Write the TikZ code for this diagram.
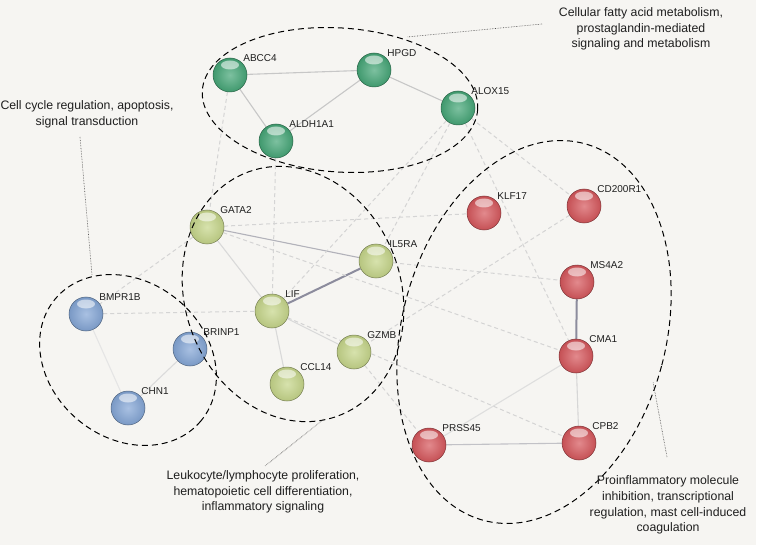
\documentclass[tikz,border=0pt]{standalone}
\usepackage{fontspec}
\setmainfont{Liberation Sans}
\usepackage{xcolor}
\definecolor{bgcol}{HTML}{F6F5F2}
\definecolor{grn}{HTML}{45A677}
\definecolor{ylw}{HTML}{C6D68A}
\definecolor{blu}{HTML}{84A6D6}
\definecolor{red}{HTML}{D6575C}
\pgfdeclarelayer{bg}
\pgfsetlayers{bg,main}

\begin{document}
\begin{tikzpicture}[x=1pt,y=-1pt,
  prot/.style={circle,minimum size=34pt,inner sep=0pt,draw=#1!60!black,line width=0.5pt,
    shading=radial,inner color=#1!70!white,outer color=#1!92!black,label distance=1.5pt,
    path picture={\fill[white,opacity=.55] ([yshift=-7pt]path picture bounding box.north) ellipse [x radius=9pt, y radius=4.5pt];}},
  lbl/.style={font=\fontsize{10}{12}\selectfont,text=black!88,inner sep=1pt},
  link/.style={draw=black!22,line width=1.1pt},
  strong/.style={draw=blue!15!black!45,line width=2pt},
  weak/.style={draw=black!17,line width=1pt,dash pattern=on 4pt off 3pt},
  hull/.style={draw=black,line width=1pt,dash pattern=on 6pt off 4pt},
  lead/.style={draw=black!70,line width=0.6pt,densely dotted},
  note/.style={font=\fontsize{12.3}{15.7}\selectfont,text=black!88,align=center,inner sep=0pt}]
\begin{pgfonlayer}{bg}
\fill[bgcol] (0,0) rectangle (756,545);
\end{pgfonlayer}
\useasboundingbox (0,0) rectangle (762,545);
% green group
\node[prot=grn,label={[lbl]45:ABCC4}] (abcc4) at (230,75) {};
\node[prot=grn,label={[lbl]45:HPGD}] (hpgd) at (374,70) {};
\node[prot=grn,label={[lbl]45:ALDH1A1}] (aldh1a1) at (276,141) {};
\node[prot=grn,label={[lbl]45:ALOX15}] (alox15) at (458,108) {};
% yellow group
\node[prot=ylw,label={[lbl]45:GATA2}] (gata2) at (207,227) {};
\node[prot=ylw,label={[lbl]45:IL5RA}] (il5ra) at (376,261) {};
\node[prot=ylw,label={[lbl]45:LIF}] (lif) at (272,311) {};
\node[prot=ylw,label={[lbl]45:GZMB}] (gzmb) at (354,352) {};
\node[prot=ylw,label={[lbl]45:CCL14}] (ccl14) at (287,384) {};
% blue group
\node[prot=blu,label={[lbl]45:BMPR1B}] (bmpr1b) at (86,314) {};
\node[prot=blu,label={[lbl]45:BRINP1}] (brinp1) at (190,349) {};
\node[prot=blu,label={[lbl]45:CHN1}] (chn1) at (128,408) {};
% red group
\node[prot=red,label={[lbl]45:KLF17}] (klf17) at (484,213) {};
\node[prot=red,label={[lbl]45:CD200R1}] (cd200r1) at (584,206) {};
\node[prot=red,label={[lbl]45:MS4A2}] (ms4a2) at (577,282) {};
\node[prot=red,label={[lbl]45:CMA1}] (cma1) at (576,356) {};
\node[prot=red,label={[lbl]45:CPB2}] (cpb2) at (579,443) {};
\node[prot=red,label={[lbl]45:PRSS45}] (prss45) at (429,445) {};
% edges
\begin{pgfonlayer}{bg}
\draw[link] (abcc4) -- (hpgd);
\draw[link] (abcc4) -- (aldh1a1);
\draw[link] (aldh1a1) -- (hpgd);
\draw[link] (hpgd) -- (alox15);
\draw[link,draw=blue!10!black!30] (gata2) -- (il5ra);
\draw[link,draw=black!15] (gata2) -- (lif);
\draw[link,draw=black!15] (lif) -- (gzmb);
\draw[link,draw=black!15] (lif) -- (ccl14);
\draw[strong] (lif) -- (il5ra);
\draw[link,draw=black!10] (bmpr1b) -- (chn1);
\draw[link,draw=black!14] (chn1) -- (brinp1);
\draw[strong] (ms4a2) -- (cma1);
\draw[link,draw=black!16] (cma1) -- (cpb2);
\draw[link,draw=black!13] (cma1) -- (prss45);
\draw[link,draw=blue!8!black!24] (prss45) -- (cpb2);
\draw[weak] (abcc4) -- (gata2);
\draw[weak] (aldh1a1) -- (lif);
\draw[weak] (alox15) -- (lif);
\draw[weak] (alox15) -- (il5ra);
\draw[weak] (alox15) -- (cma1);
\draw[weak] (alox15) -- (cd200r1);
\draw[weak] (gata2) -- (klf17);
\draw[weak] (gata2) -- (bmpr1b);
\draw[weak] (gata2) -- (cma1);
\draw[weak] (il5ra) -- (ms4a2);
\draw[weak] (bmpr1b) -- (lif);
\draw[weak] (cd200r1) -- (gzmb);
\draw[weak] (gzmb) -- (prss45);
\draw[weak] (lif) -- (cpb2);
\end{pgfonlayer}
% hulls
\draw[hull] (340,100) ellipse [x radius=138, y radius=72, rotate=-4];
\draw[hull] (293,294) ellipse [x radius=108, y radius=130, rotate=20];
\draw[hull] (128,360) ellipse [x radius=95, y radius=78, rotate=-40];
\draw[hull] (534,332) ellipse [x radius=132, y radius=195, rotate=-15];
% group notes
\node[note] (cellcyc) at (87,114) {Cell cycle regulation, apoptosis,\\signal transduction};
\node[note] (fatty) at (641,29) {Cellular fatty acid metabolism,\\prostaglandin-mediated\\signaling and metabolism};
\node[note] (leuko) at (263,492) {Leukocyte/lymphocyte proliferation,\\hematopoietic cell differentiation,\\inflammatory signaling};
\node[note] (proinf) at (668,505) {Proinflammatory molecule\\inhibition, transcriptional\\regulation, mast cell-induced\\coagulation};
% leader lines
\coordinate (c1) at (80,137);
\coordinate (c2) at (92,275);
\coordinate (f1) at (542,24);
\coordinate (f2) at (407,37);
\coordinate (l1) at (265,466);
\coordinate (l2) at (324,419);
\coordinate (p1) at (667,457);
\coordinate (p2) at (653,382);
\draw[lead] (c1) -- (c2);
\draw[lead] (f1) -- (f2);
\draw[lead] (l1) -- (l2);
\draw[lead] (p1) -- (p2);
\end{tikzpicture}
\end{document}
